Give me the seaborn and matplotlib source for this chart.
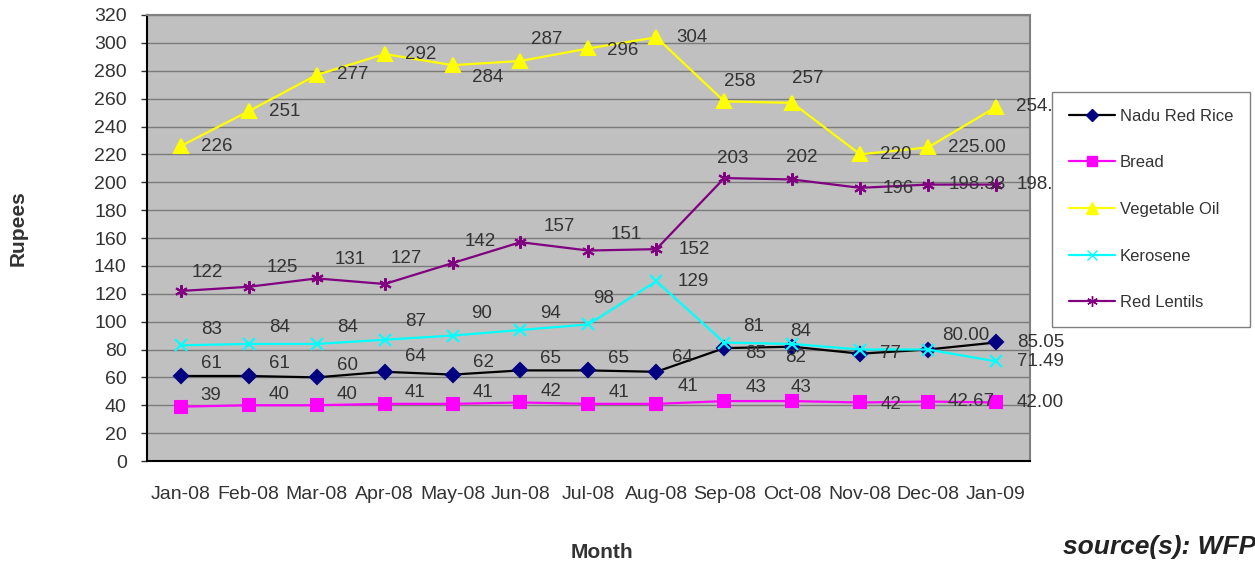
import seaborn as sns
import matplotlib.pyplot as plt
from matplotlib.lines import Line2D

months = ["Jan-08", "Feb-08", "Mar-08", "Apr-08", "May-08", "Jun-08", "Jul-08",
          "Aug-08", "Sep-08", "Oct-08", "Nov-08", "Dec-08", "Jan-09"]

rice = [61, 61, 60, 64, 62, 65, 65, 64, 81, 82, 77, 80.00, 85.05]
bread = [39, 40, 40, 41, 41, 42, 41, 41, 43, 43, 42, 42.67, 42.00]
veg_oil = [226, 251, 277, 292, 284, 287, 296, 304, 258, 257, 220, 225.00, 254.00]
kerosene = [83, 84, 84, 87, 90, 94, 98, 129, 85, 84, 80, 80, 71.49]
lentils = [122, 125, 131, 127, 142, 157, 151, 152, 203, 202, 196, 198.33, 198.33]

# labels as shown on the chart (some points carry no label)
rice_lbl = ["61", "61", "60", "64", "62", "65", "65", "64", "81", "82", "77", "80.00", "85.05"]
bread_lbl = ["39", "40", "40", "41", "41", "42", "41", "41", "43", "43", "42", "42.67", "42.00"]
oil_lbl = ["226", "251", "277", "292", "284", "287", "296", "304", "258", "257", "220", "225.00", "254.00"]
kero_lbl = ["83", "84", "84", "87", "90", "94", "98", "129", "85", "84", "", "", "71.49"]
lent_lbl = ["122", "125", "131", "127", "142", "157", "151", "152", "203", "202", "196", "198.33", "198.33"]

sns.set_style("white")
plt.rcParams["font.family"] = ["Liberation Sans", "DejaVu Sans"]

fig = plt.figure(figsize=(12.55, 5.66), dpi=100)
ax = fig.add_axes([0.117, 0.1855, 0.7037, 0.788])
ax.set_facecolor("#c0c0c0")

x = list(range(len(months)))
# name, values, labels, line colour, marker, marker colour, marker size, default label offset (px)
series = [
    ("Nadu Red Rice", rice, rice_lbl, "black", "D", "#000080", 7.5, (20, 12)),
    ("Bread", bread, bread_lbl, "#ff00ff", "s", "#ff00ff", 9, (20, 11)),
    ("Vegetable Oil", veg_oil, oil_lbl, "#ffff00", "^", "#ffff00", 10, (20, 0)),
    ("Kerosene", kerosene, kero_lbl, "#00ffff", "x", "#00ffff", 9, (20, 16)),
    ("Red Lentils", lentils, lent_lbl, "#800080", (6, 2, 0), "#800080", 9, (18, 19)),
]

# per-label offset tweaks (pixels, left edge of text / up)
tweaks = {
    ("Nadu Red Rice", 3): (20, 15), ("Nadu Red Rice", 7): (16, 14),
    ("Nadu Red Rice", 8): (19, 22), ("Nadu Red Rice", 9): (-7, -11),
    ("Nadu Red Rice", 10): (20, 0), ("Nadu Red Rice", 11): (14, 14),
    ("Nadu Red Rice", 12): (21, 0),
    ("Bread", 7): (21, 17), ("Bread", 8): (21, 14), ("Bread", 9): (-2, 14),
    ("Bread", 10): (20, -2), ("Bread", 11): (20, 0), ("Bread", 12): (21, 0),
    ("Kerosene", 3): (21, 18), ("Kerosene", 4): (19, 22), ("Kerosene", 6): (5, 26),
    ("Kerosene", 7): (21, 0), ("Kerosene", 8): (21, -11), ("Kerosene", 9): (-2, 12),
    ("Kerosene", 12): (21, 0),
    ("Red Lentils", 0): (11, 18), ("Red Lentils", 3): (6, 25), ("Red Lentils", 4): (12, 22),
    ("Red Lentils", 5): (23, 16), ("Red Lentils", 6): (22, 16), ("Red Lentils", 7): (22, 0),
    ("Red Lentils", 8): (-7, 20), ("Red Lentils", 9): (-6, 22), ("Red Lentils", 10): (22, -1),
    ("Red Lentils", 11): (21, 0), ("Red Lentils", 12): (21, 0),
    ("Vegetable Oil", 4): (19, -12), ("Vegetable Oil", 5): (11, 21),
    ("Vegetable Oil", 6): (19, -2), ("Vegetable Oil", 8): (0, 20),
    ("Vegetable Oil", 9): (0, 24),
}

handles = []
for name, vals, lbls, lc, mk, mc, ms, off in series:
    sns.lineplot(x=x, y=vals, ax=ax, color=lc, linewidth=1.6, marker=mk,
                 markersize=ms, markerfacecolor=mc, markeredgecolor=mc,
                 markeredgewidth=1.5, zorder=3)
    for i, (xv, yv, t) in enumerate(zip(x, vals, lbls)):
        if not t:
            continue
        dx, dy = tweaks.get((name, i), off)
        ax.annotate(t, (xv, yv), xytext=(dx, dy), textcoords="offset pixels",
                    ha="left", va="center", fontsize=13.5, color="#333333",
                    zorder=4, annotation_clip=False)
    handles.append(Line2D([], [], color=lc, linewidth=1.6, marker=mk,
                          markersize=ms * 0.85, markerfacecolor=mc,
                          markeredgecolor=mc))

ax.set_xlim(-0.5, len(months) - 0.5)
ax.set_ylim(0, 320)
ax.set_yticks(range(0, 321, 20))
ax.set_xticks(x)
ax.set_xticklabels(months)
ax.set_xticks([i - 0.5 for i in range(len(months) + 1)], minor=True)
ax.tick_params(axis="x", which="major", length=0, pad=18, labelsize=14, colors="#333333")
ax.tick_params(axis="x", which="minor", length=5, width=1, color="#333333", direction="out")
ax.tick_params(axis="y", length=4.5, width=1, pad=10, labelsize=14, colors="#333333",
               direction="out", left=True)
ax.grid(axis="y", color="#7a7a7a", linewidth=1)
ax.set_axisbelow(True)
ax.set_xlabel("")
ax.set_ylabel("")
for s in ["top", "right"]:
    ax.spines[s].set_color("#808080")
    ax.spines[s].set_linewidth(1.5)
for s in ["left", "bottom"]:
    ax.spines[s].set_color("black")
    ax.spines[s].set_linewidth(1.5)

leg = fig.legend(handles, [s[0] for s in series], loc="upper left",
                 bbox_to_anchor=(1052 / 1255, 1 - 92 / 566), fontsize=12,
                 frameon=True, fancybox=False, framealpha=1, handlelength=2.75,
                 labelspacing=1.9, borderpad=1.0, handletextpad=0.3,
                 borderaxespad=0)
leg.get_frame().set_edgecolor("#808080")
leg.get_frame().set_linewidth(1)
leg.set_zorder(10)
for t in leg.get_texts():
    t.set_color("#333333")

fig.text(18 / 1255, 1 - 228 / 566, "Rupees", rotation=90, ha="center", va="center",
         fontsize=15, fontweight="bold", color="#333333")
fig.text(602 / 1255, 1 - 553 / 566, "Month", ha="center", va="center",
         fontsize=15, fontweight="bold", color="#333333")
fig.text(1063 / 1255, 1 - 547 / 566, "source(s): WFP", ha="left", va="center",
         fontsize=19, fontweight="bold", fontstyle="italic", color="#222222")

plt.savefig("out.png", dpi=100)
